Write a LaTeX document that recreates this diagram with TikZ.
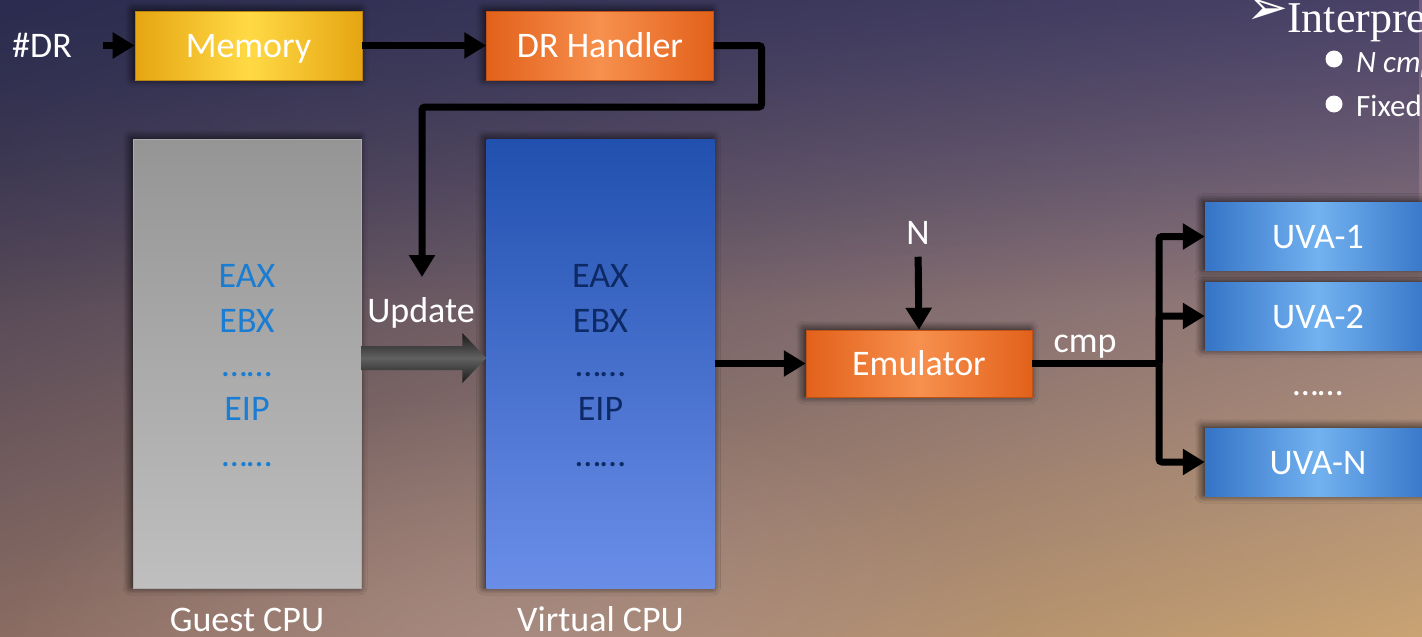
\documentclass[tikz,border=0pt]{standalone}
\usepackage{fontspec}
\setmainfont{Carlito}
\newfontfamily\serifface{Liberation Serif}
\newfontfamily\symface{DejaVu Sans}
\usetikzlibrary{arrows.meta,calc,shadings,fadings,shadows.blur}

\tikzfading[name=glowfade, inner color=transparent!0, outer color=transparent!100]

\definecolor{bgUL}{HTML}{2B2C4F}
\definecolor{bgUR}{HTML}{6E5E84}
\definecolor{bgLL}{HTML}{8A6C62}
\definecolor{bgLR}{HTML}{C9A373}
\definecolor{bgGlow}{HTML}{B0969A}
\definecolor{goldEdge}{HTML}{E6A512}
\definecolor{goldMid}{HTML}{FFDA45}
\definecolor{orEdge}{HTML}{E2611A}
\definecolor{orMid}{HTML}{F7904E}
\definecolor{gryTop}{HTML}{959595}
\definecolor{gryBot}{HTML}{BFBFBF}
\definecolor{vbTop}{HTML}{2150AF}
\definecolor{vbBot}{HTML}{6A8EE8}
\definecolor{uvEdge}{HTML}{3574C6}
\definecolor{uvMid}{HTML}{72B2F0}
\definecolor{regGuest}{HTML}{1A7DD4}
\definecolor{regVirt}{HTML}{0E2A66}

\tikzset{
  lbl/.style={font=\fontsize{36}{40}\selectfont, text=white, inner sep=2pt},
  reg/.style={font=\fontsize{36}{40}\selectfont, anchor=base, inner sep=0pt},
  boxshadow/.style={blur shadow={shadow xshift=-2pt, shadow yshift=1pt,
      shadow blur radius=8pt, shadow opacity=80, shadow blur steps=10}},
  flatbox/.style={lbl, minimum width=227pt, minimum height=69pt,
      text height=30pt, text depth=6pt, boxshadow},
  goldbox/.style={flatbox, draw=goldEdge!80!black, line width=0.6pt,
      left color=goldEdge, right color=goldEdge, middle color=goldMid},
  orangebox/.style={flatbox, draw=orEdge!85!black, line width=0.4pt,
      left color=orEdge, right color=orEdge, middle color=orMid},
  uvabox/.style={flatbox, minimum height=68pt,
      left color=uvEdge, right color=uvEdge, middle color=uvMid},
  cpubox/.style={minimum width=228pt, minimum height=449pt, inner sep=0pt, boxshadow},
  conn/.style={line width=7pt, draw=black, rounded corners=3pt,
      -{Triangle[length=22pt,width=25pt]}},
  bullet/.style={circle, fill=white, minimum size=17pt, inner sep=0pt},
  sidetext/.style={text=white, anchor=base west, inner sep=0pt},
}

\begin{document}
\begin{tikzpicture}[x=1pt, y=-1pt]
  % backdrop
  \useasboundingbox (0,0) rectangle (1422,637);
  \shade[upper left=bgUL, upper right=bgUR, lower left=bgLL, lower right=bgLR]
    (0,0) rectangle (1422,637);
  \fill[bgUL, path fading=south, opacity=0.55] (0,0) rectangle (1422,300);
  \fill[bgGlow, path fading=glowfade, opacity=0.5]
    (520,650) ellipse (520pt and 260pt);

  % top row
  \node[lbl] (dr) at (42,45.5) {\#DR};
  \node[goldbox] (mem) at (248.5,45.5) {Memory};
  \node[orangebox] (drh) at (600,45.5) {DR Handler};

  % register files
  \node[cpubox, top color=gryTop, bottom color=gryBot,
        draw=gryBot!90!black, line width=0.4pt] (guest) at (247,363.5) {};
  \node[cpubox, top color=vbTop, bottom color=vbBot] (virt) at (600.5,363.5) {};

  \foreach \t/\y [count=\i] in {EAX/287, EBX/332, ……/376, EIP/420, ……/466} {
    \node[reg, text=regGuest] (g\i) at (247,\y) {\t};
    \node[reg, text=regVirt] (v\i) at (600.5,\y) {\t};
  }
  \node[lbl, anchor=base] (gname) at (247,631) {Guest CPU};
  \node[lbl, anchor=base] (vname) at (600.5,631) {Virtual CPU};

  % emulator and the UVA replicas
  \node[orangebox, minimum width=226pt, minimum height=67pt] (emu) at (919,363.5) {Emulator};
  \node[lbl] (nlbl) at (918,233) {N};
  \node[uvabox, minimum width=226pt] (uva1) at (1318,236.5) {UVA-1};
  \node[uvabox, minimum width=226pt] (uva2) at (1318,316) {UVA-2};
  \node[lbl, anchor=base] (udots) at (1318,395) {……};
  \node[uvabox, minimum width=226pt] (uvaN) at (1318,462) {UVA-N};

  % connectors
  \draw[conn, shorten <=29pt] (dr.east) -- (mem.west);
  \draw[conn] (mem.east) -- (drh.west);
  \coordinate (updtip) at (422,277);
  \draw[conn] (drh.east) -- ++(48,0) |- (422,107) -- (updtip);
  \node[lbl, anchor=base] (updlbl) at (421,322) {Update};

  \shade[top color=black!90, bottom color=black!90, middle color=black!62]
    ($(guest.east)+(0,-17.5)$) -- ($(virt.west)+(-24,-17.5)$)
    -- ($(virt.west)+(-24,-30.5)$) -- ($(virt.west)+(0,-5.5)$)
    -- ($(virt.west)+(-24,19.5)$) -- ($(virt.west)+(-24,6.5)$)
    -- ($(guest.east)+(0,6.5)$) -- cycle;

  \draw[conn] (virt.east) -- (emu.west);
  \draw[conn, shorten <=10pt] (nlbl.south) -- (emu.north);

  \coordinate (split) at (1159,363.5);
  \draw[line width=7pt] (emu.east) -- (split);
  \node[lbl, anchor=base] (cmp) at (1085,352) {cmp};
  \draw[conn] (split) |- (uva1.west);
  \draw[conn] (split) |- (uva2.west);
  \draw[conn] (split) |- (uvaN.west);

  % slide text running off the right edge
  \node[text=white, font=\symface\fontsize{50}{50}\selectfont, inner sep=0pt]
    (pointer) at (1267,11) {➢};
  \node[sidetext, font=\serifface\fontsize{44}{48}\selectfont] (head) at (1287,32) {Interpreter};
  \node[bullet] (b1) at (1334,59) {};
  \node[sidetext, font=\itshape\fontsize{31}{34}\selectfont] (t1) at (1356,72) {N cmp};
  \node[bullet] (b2) at (1334,104) {};
  \node[sidetext, font=\fontsize{31}{34}\selectfont] (t2) at (1356,116) {Fixed};
\end{tikzpicture}
\end{document}
